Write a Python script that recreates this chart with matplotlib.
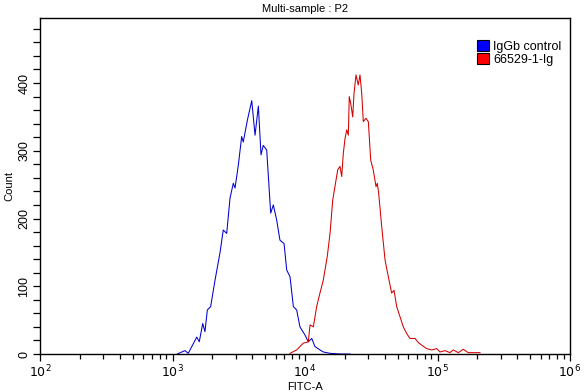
import matplotlib
matplotlib.use("Agg")
import matplotlib.pyplot as plt
import numpy as np
from matplotlib.patches import Patch
from matplotlib.ticker import FixedLocator, NullFormatter, LogLocator

plt.rcParams['font.family'] = ['Liberation Sans', 'DejaVu Sans']

# ---- data (log10 of FITC-A intensity, and event counts) ----
blue_log = [3.036, 3.094, 3.119, 3.183, 3.202, 3.228, 3.245, 3.263, 3.288, 3.321,
            3.358, 3.383, 3.409, 3.434, 3.459, 3.472, 3.497, 3.522, 3.534, 3.565,
            3.598, 3.623, 3.648, 3.668, 3.685, 3.711, 3.741, 3.761, 3.786, 3.811,
            3.842, 3.862, 3.887, 3.912, 3.937, 3.962, 4.000, 4.025, 4.051, 4.075,
            4.113, 4.138, 4.189, 4.264, 4.340]
blue_count = [0, 5, 1, 25, 18, 45, 33, 65, 70, 109,
              149, 183, 178, 230, 252, 245, 279, 321, 313, 345,
              374, 323, 366, 294, 308, 301, 208, 220, 198, 168,
              163, 124, 114, 70, 65, 40, 28, 18, 23, 11,
              6, 3, 1, 0, 0]

red_log = [3.887, 3.937, 3.987, 4.025, 4.038, 4.063, 4.088, 4.113, 4.138, 4.168,
           4.189, 4.209, 4.226, 4.247, 4.264, 4.277, 4.289, 4.302, 4.315, 4.327,
           4.334, 4.345, 4.360, 4.370, 4.385, 4.402, 4.415, 4.428, 4.440, 4.460,
           4.478, 4.496, 4.515, 4.536, 4.546, 4.556, 4.579, 4.604, 4.629, 4.654,
           4.672, 4.692, 4.717, 4.742, 4.768, 4.792, 4.830, 4.855, 4.881, 4.918,
           4.956, 4.994, 5.019, 5.057, 5.094, 5.119, 5.157, 5.194, 5.232, 5.321]
red_count = [1, 6, 16, 18, 43, 40, 70, 90, 109, 144,
             178, 227, 247, 272, 277, 262, 296, 318, 331, 323,
             380, 370, 350, 385, 412, 397, 412, 385, 343, 348,
             343, 286, 272, 247, 252, 237, 188, 139, 114, 90,
             94, 70, 55, 40, 30, 23, 23, 17, 13, 8,
             6, 8, 3, 5, 2, 6, 2, 7, 2, 2]

series_names = ["IgGb control", "66529-1-Ig"]
line_colors = ["#0000CC", "#D40000"]
patch_colors = ["#0000FF", "#FF0000"]
y_ticks = [0, 100, 200, 300, 400]
x_decades = [2, 3, 4, 5, 6]

fig = plt.figure(figsize=(5.86, 3.92), dpi=100)
ax = fig.add_axes([40/586, 38/392, 530/586, 336/392])

ax.plot(10 ** np.array(blue_log), blue_count, color=line_colors[0], lw=0.75)
ax.plot(10 ** np.array(red_log), red_count, color=line_colors[1], lw=0.75)

ax.set_xscale('log')
ax.set_xlim(10 ** x_decades[0], 10 ** x_decades[-1])
ax.set_ylim(0, 496)

ax.xaxis.set_major_locator(FixedLocator([10 ** d for d in x_decades]))
ax.set_xticklabels([f"$10^{{{d}}}$" for d in x_decades])
ax.xaxis.set_minor_locator(LogLocator(base=10, subs=np.arange(2, 10), numticks=20))
ax.xaxis.set_minor_formatter(NullFormatter())

ax.set_yticks(y_ticks)
ax.set_yticklabels([str(v) for v in y_ticks], rotation=90, va='center')
ax.yaxis.set_minor_locator(FixedLocator(np.arange(0, 496, 20)))

ax.tick_params(axis='both', which='major', direction='out', length=5, width=0.9,
               labelsize=9, colors='black')
ax.tick_params(axis='x', which='minor', direction='out', length=3.5, width=0.9)
ax.tick_params(axis='y', which='minor', direction='out', length=5, width=0.9)
ax.tick_params(axis='y', which='major', pad=2)
ax.tick_params(axis='x', which='major', pad=2)

for s in ax.spines.values():
    s.set_linewidth(1.0)
    s.set_color('black')

ax.set_title("Multi-sample : P2", fontsize=8, pad=4)
ax.set_ylabel("Count", fontsize=8, labelpad=3)
ax.set_xlabel("FITC-A", fontsize=8, labelpad=1)

handles = [Patch(facecolor=c, edgecolor='black', lw=0.8) for c in patch_colors]
ax.legend(handles, series_names, loc='upper right', bbox_to_anchor=(1.0, 0.96),
          frameon=False, fontsize=9, handlelength=1.0, handleheight=1.0,
          handletextpad=0.3, labelspacing=0.0, borderaxespad=0.3)

fig.savefig("out.png", dpi=100)
